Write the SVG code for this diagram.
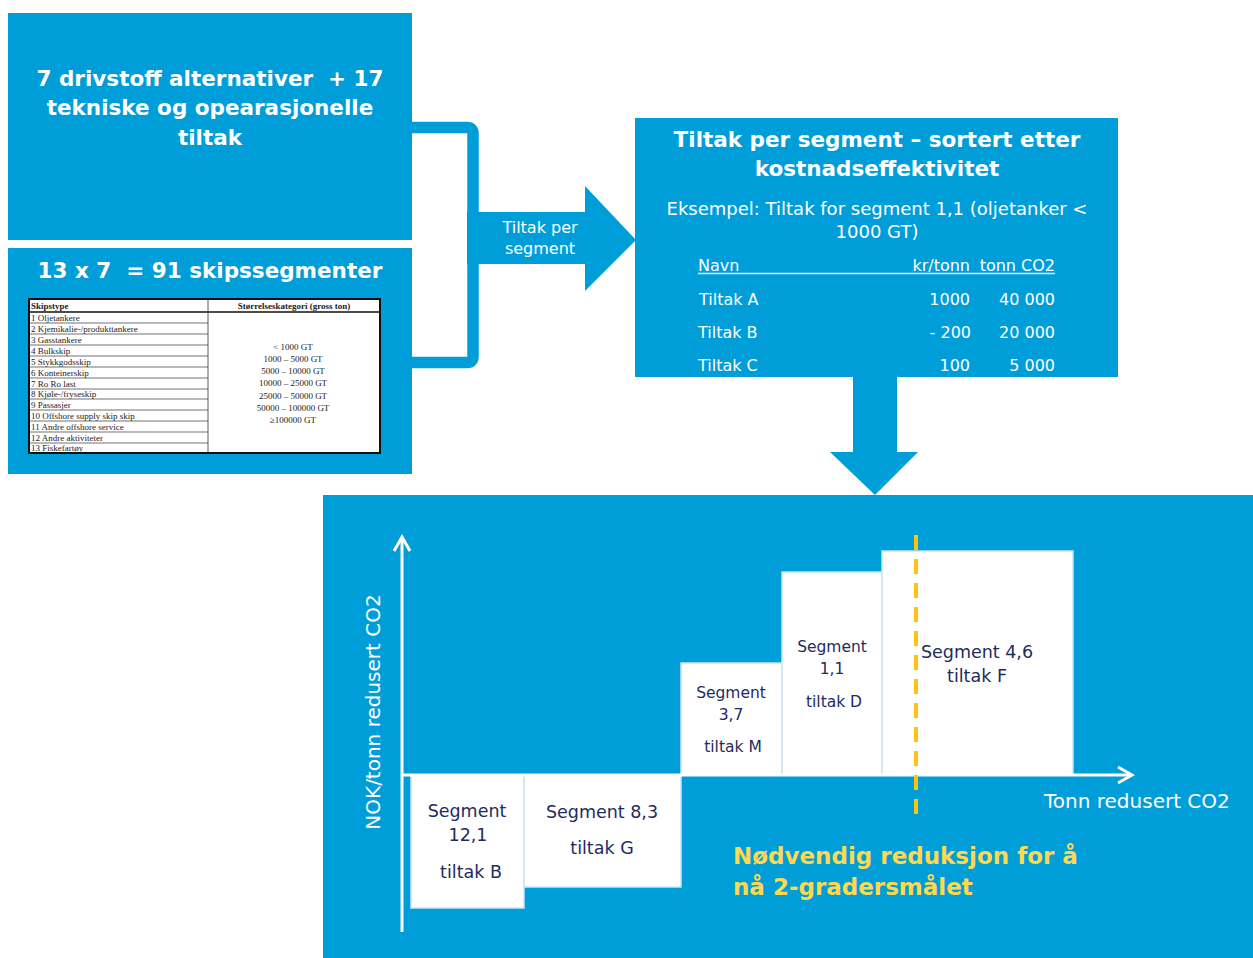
<svg xmlns="http://www.w3.org/2000/svg" width="1253" height="958" viewBox="0 0 1253 958">
<style>
.box{fill:#009ED9}
.wb{font-family:"DejaVu Sans","Liberation Sans",sans-serif;font-weight:bold;fill:#fff;text-anchor:middle}
.w{font-family:"DejaVu Sans","Liberation Sans",sans-serif;fill:#fff}
.bar{fill:#fff;stroke:#C5E6F6;stroke-width:1.5}
.bt{font-family:"DejaVu Sans","Liberation Sans",sans-serif;fill:#1E2B5E;text-anchor:middle}
.tb{font-family:"Liberation Serif",serif;font-size:9px;fill:#222}
.tbc{font-family:"Liberation Serif",serif;font-size:9px;fill:#222;text-anchor:middle}
.rl{stroke:#333;stroke-width:0.7}
.ax{stroke:#fff;stroke-width:3;fill:none}
.yl{font-family:"DejaVu Sans","Liberation Sans",sans-serif;font-weight:bold;font-size:23px;fill:#FFD84F}
</style>
<rect width="1253" height="958" fill="#fff"/>
<g id="connectors">
<path d="M412,127.5 H467 Q473,127.5 473,133.5 V356.5 Q473,362.5 467,362.5 H412" fill="none" stroke="#009ED9" stroke-width="11.5"/>
<polygon points="467,212 585,212 585,186 636,240 585,291 585,264 467,264" fill="#009ED9"/>
<text class="w" font-size="16" text-anchor="middle" x="540" y="233">Tiltak per</text>
<text class="w" font-size="16" text-anchor="middle" x="540" y="254">segment</text>
<polygon points="853,377 897,377 897,452 918,452 875,495 830,452 853,452" fill="#009ED9"/>
</g>
<g id="node-alternativer">
<rect class="box" x="8" y="13" width="404" height="227"/>
<text class="wb" font-size="21.5" x="210" y="86">7 drivstoff alternativer&#160; + 17</text>
<text class="wb" font-size="21.5" x="210" y="115">tekniske og opearasjonelle</text>
<text class="wb" font-size="21.5" x="210" y="145">tiltak</text>
</g>
<g id="node-skipssegmenter">
<rect class="box" x="8" y="248" width="404" height="226"/>
<text class="wb" font-size="21.5" x="210" y="278">13 x 7&#160; = 91 skipssegmenter</text>
<rect x="29" y="299" width="351" height="154" fill="#fff" stroke="#111" stroke-width="2"/>
<line x1="29" y1="312" x2="380" y2="312" stroke="#111" stroke-width="1.5"/>
<line x1="208" y1="299" x2="208" y2="453" stroke="#333" stroke-width="0.8"/>
<g class="rl">
<line x1="29" y1="323" x2="208" y2="323"/><line x1="29" y1="334" x2="208" y2="334"/><line x1="29" y1="345" x2="208" y2="345"/><line x1="29" y1="356" x2="208" y2="356"/><line x1="29" y1="367" x2="208" y2="367"/><line x1="29" y1="378" x2="208" y2="378"/><line x1="29" y1="389" x2="208" y2="389"/><line x1="29" y1="399" x2="208" y2="399"/><line x1="29" y1="410" x2="208" y2="410"/><line x1="29" y1="421" x2="208" y2="421"/><line x1="29" y1="432" x2="208" y2="432"/><line x1="29" y1="443" x2="208" y2="443"/>
</g>
<text class="tb" font-weight="bold" x="31" y="309">Skipstype</text>
<text class="tbc" font-weight="bold" x="294" y="309">Størrelseskategori (gross ton)</text>
<text class="tb" x="31" y="321">1 Oljetankere</text>
<text class="tb" x="31" y="332">2 Kjemikalie-/produkttankere</text>
<text class="tb" x="31" y="343">3 Gasstankere</text>
<text class="tb" x="31" y="354">4 Bulkskip</text>
<text class="tb" x="31" y="365">5 Stykkgodsskip</text>
<text class="tb" x="31" y="376">6 Konteinerskip</text>
<text class="tb" x="31" y="387">7 Ro Ro last</text>
<text class="tb" x="31" y="397">8 Kjøle-/fryseskip</text>
<text class="tb" x="31" y="408">9 Passasjer</text>
<text class="tb" x="31" y="419">10 Offshore supply skip skip</text>
<text class="tb" x="31" y="430">11 Andre offshore service</text>
<text class="tb" x="31" y="441">12 Andre aktiviteter</text>
<text class="tb" x="31" y="451">13 Fiskefartøy</text>
<text class="tbc" x="293" y="350">&lt; 1000 GT</text>
<text class="tbc" x="293" y="362">1000 – 5000 GT</text>
<text class="tbc" x="293" y="374">5000 – 10000 GT</text>
<text class="tbc" x="293" y="386">10000 – 25000 GT</text>
<text class="tbc" x="293" y="399">25000 – 50000 GT</text>
<text class="tbc" x="293" y="411">50000 – 100000 GT</text>
<text class="tbc" x="293" y="423">≥100000 GT</text>
</g>
<g id="node-tiltak-per-segment">
<rect class="box" x="635" y="118" width="483" height="259"/>
<text class="wb" font-size="21.5" x="877" y="147">Tiltak per segment – sortert etter</text>
<text class="wb" font-size="21.5" x="877" y="176">kostnadseffektivitet</text>
<text class="w" font-size="18" text-anchor="middle" x="877" y="215">Eksempel: Tiltak for segment 1,1 (oljetanker &lt;</text>
<text class="w" font-size="18" text-anchor="middle" x="877" y="238">1000 GT)</text>
<text class="w" font-size="16" x="698" y="271">Navn</text>
<text class="w" font-size="16" text-anchor="end" x="970" y="271">kr/tonn</text>
<text class="w" font-size="16" text-anchor="end" x="1055" y="271">tonn CO2</text>
<line x1="698" y1="273.5" x2="1055" y2="273.5" stroke="#D8F0FA" stroke-width="1.5"/>
<text class="w" font-size="16" x="699" y="305">Tiltak A</text>
<text class="w" font-size="16" text-anchor="end" x="970" y="305">1000</text>
<text class="w" font-size="16" text-anchor="end" x="1055" y="305">40 000</text>
<text class="w" font-size="16" x="698" y="338">Tiltak B</text>
<text class="w" font-size="16" text-anchor="end" x="971" y="338">- 200</text>
<text class="w" font-size="16" text-anchor="end" x="1055" y="338">20 000</text>
<text class="w" font-size="16" x="698" y="371">Tiltak C</text>
<text class="w" font-size="16" text-anchor="end" x="970" y="371">100</text>
<text class="w" font-size="16" text-anchor="end" x="1055" y="371">5 000</text>
</g>
<g id="node-chart">
<rect class="box" x="323" y="495" width="930" height="463"/>
<g id="bar-12-1"><rect class="bar" x="411" y="775" width="113" height="133"/>
<text class="bt" font-size="17.5" x="467" y="817">Segment</text>
<text class="bt" font-size="17.5" x="468" y="841">12,1</text>
<text class="bt" font-size="17.5" x="471" y="878">tiltak B</text></g>
<g id="bar-8-3"><rect class="bar" x="524" y="775" width="157" height="112"/>
<text class="bt" font-size="17.5" x="602" y="818">Segment 8,3</text>
<text class="bt" font-size="17.5" x="602" y="854">tiltak G</text></g>
<g id="bar-3-7"><rect class="bar" x="681" y="663" width="101" height="112"/>
<text class="bt" font-size="15.5" x="731" y="698">Segment</text>
<text class="bt" font-size="15.5" x="731" y="720">3,7</text>
<text class="bt" font-size="15.5" x="733" y="752">tiltak M</text></g>
<g id="bar-1-1"><rect class="bar" x="782" y="572" width="100" height="203"/>
<text class="bt" font-size="15.5" x="832" y="652">Segment</text>
<text class="bt" font-size="15.5" x="832" y="674">1,1</text>
<text class="bt" font-size="15.5" x="834" y="707">tiltak D</text></g>
<g id="bar-4-6"><rect class="bar" x="882" y="551" width="191" height="224"/>
<text class="bt" font-size="17.5" x="977" y="658">Segment 4,6</text>
<text class="bt" font-size="17.5" x="977" y="682">tiltak F</text></g>
<path class="ax" d="M402,932 V538"/>
<path class="ax" d="M394,551 L402,537 L410,551" stroke-width="2.5"/>
<path class="ax" d="M402,775 H1131"/>
<path class="ax" d="M1118,767 L1132,775 L1118,783" stroke-width="2.5"/>
<line x1="916" y1="535" x2="916" y2="814" stroke="#FFC20E" stroke-width="4" stroke-dasharray="15,9"/>
<text class="w" font-size="20" x="0" y="0" text-anchor="middle" transform="translate(380,712) rotate(-90)">NOK/tonn redusert CO2</text>
<text class="w" font-size="20" x="1044" y="808">Tonn redusert CO2</text>
<text class="yl" x="733" y="864">Nødvendig reduksjon for å</text>
<text class="yl" x="733" y="895">nå 2-gradersmålet</text>
</g>
</svg>
